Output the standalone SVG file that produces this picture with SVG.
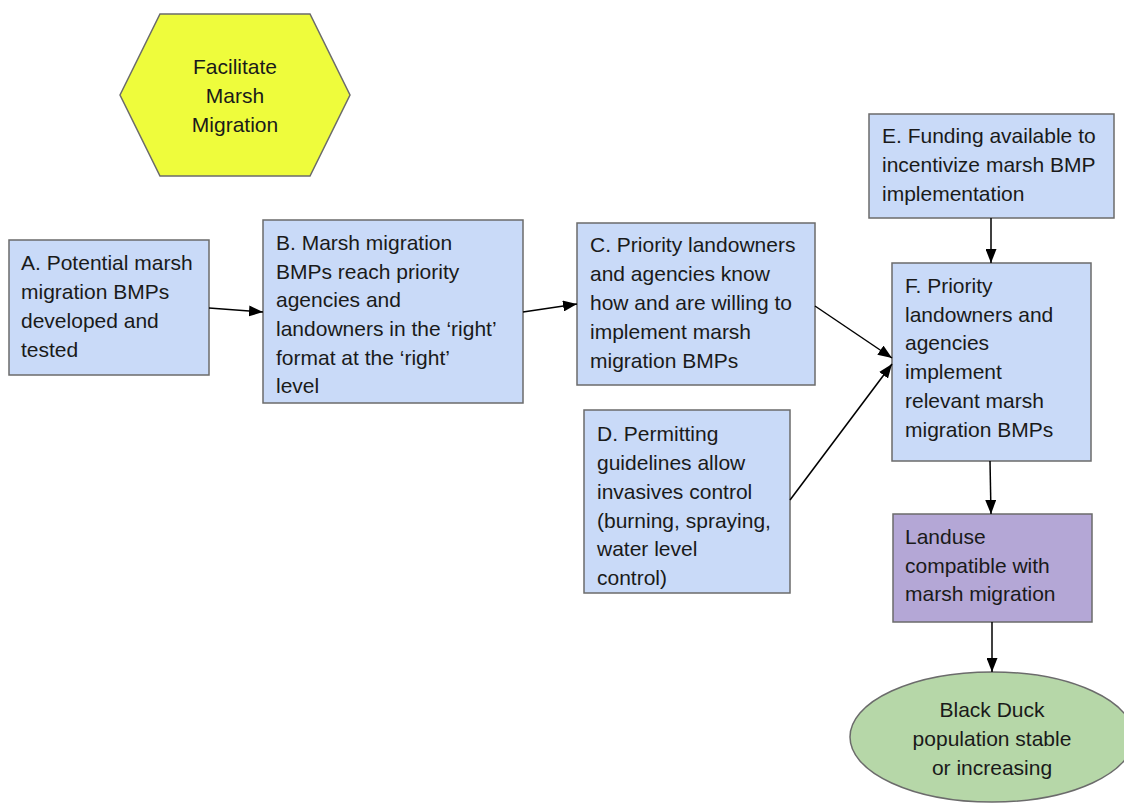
<svg xmlns="http://www.w3.org/2000/svg" width="1124" height="806" viewBox="0 0 1124 806">
  <defs>
    <marker id="arrow" viewBox="0 0 14 11" refX="14" refY="5.5" markerWidth="14" markerHeight="11" markerUnits="userSpaceOnUse" orient="auto">
      <path d="M0,0 L14,5.5 L0,11 z" fill="#000"/>
    </marker>
  </defs>
  <style>
    .box { fill: #c9daf8; stroke: #6b6b6b; stroke-width: 1.5; }
    .goal { fill: #eefc3c; stroke: #6b6b6b; stroke-width: 1.5; }
    .landuse { fill: #b4a7d6; stroke: #6b6b6b; stroke-width: 1.5; }
    .outcome { fill: #b6d7a8; stroke: #6b6b6b; stroke-width: 1.5; }
    text { font-family: "Liberation Sans", Arial, sans-serif; font-size: 21px; fill: #1a1a1a; }
    .mid { text-anchor: middle; }
    .edge { stroke: #000; stroke-width: 1.5; fill: none; marker-end: url(#arrow); }
  </style>

  <!-- goal hexagon -->
  <g id="goal">
    <polygon class="goal" points="120,95 160,14 310,14 350,95 310,176 160,176"/>
    <text class="mid" x="235" y="74">Facilitate</text>
    <text class="mid" x="235" y="103">Marsh</text>
    <text class="mid" x="235" y="132">Migration</text>
  </g>

  <g id="nodeA">
    <rect class="box" x="9" y="240" width="200" height="135"/>
    <text x="21" y="270">A. Potential marsh</text>
    <text x="21" y="299">migration BMPs</text>
    <text x="21" y="328">developed and</text>
    <text x="21" y="357">tested</text>
  </g>

  <g id="nodeB">
    <rect class="box" x="263" y="220" width="260" height="183"/>
    <text x="276" y="250">B. Marsh migration</text>
    <text x="276" y="279">BMPs reach priority</text>
    <text x="276" y="307">agencies and</text>
    <text x="276" y="336">landowners in the ‘right’</text>
    <text x="276" y="365">format at the ‘right’</text>
    <text x="276" y="393">level</text>
  </g>

  <g id="nodeC">
    <rect class="box" x="577" y="223" width="238" height="162"/>
    <text x="590" y="252">C. Priority landowners</text>
    <text x="590" y="281">and agencies know</text>
    <text x="590" y="310">how and are willing to</text>
    <text x="590" y="339">implement marsh</text>
    <text x="590" y="368">migration BMPs</text>
  </g>

  <g id="nodeD">
    <rect class="box" x="584" y="410" width="206" height="183"/>
    <text x="597" y="441">D. Permitting</text>
    <text x="597" y="470">guidelines allow</text>
    <text x="597" y="499">invasives control</text>
    <text x="597" y="528">(burning, spraying,</text>
    <text x="597" y="556">water level</text>
    <text x="597" y="585">control)</text>
  </g>

  <g id="nodeE">
    <rect class="box" x="869" y="114" width="245" height="104"/>
    <text x="882" y="143">E. Funding available to</text>
    <text x="882" y="172">incentivize marsh BMP</text>
    <text x="882" y="201">implementation</text>
  </g>

  <g id="nodeF">
    <rect class="box" x="892" y="263" width="199" height="198"/>
    <text x="905" y="293">F. Priority</text>
    <text x="905" y="322">landowners and</text>
    <text x="905" y="350">agencies</text>
    <text x="905" y="379">implement</text>
    <text x="905" y="408">relevant marsh</text>
    <text x="905" y="437">migration BMPs</text>
  </g>

  <g id="landuse">
    <rect class="landuse" x="893" y="514" width="199" height="108"/>
    <text x="905" y="544">Landuse</text>
    <text x="905" y="573">compatible with</text>
    <text x="905" y="601">marsh migration</text>
  </g>

  <g id="outcome">
    <ellipse class="outcome" cx="992" cy="737" rx="142" ry="65"/>
    <text class="mid" x="992" y="717">Black Duck</text>
    <text class="mid" x="992" y="746">population stable</text>
    <text class="mid" x="992" y="775">or increasing</text>
  </g>

  <g id="connectors">
    <line class="edge" x1="209" y1="308" x2="263" y2="312"/>
    <line class="edge" x1="523" y1="312" x2="577" y2="304"/>
    <line class="edge" x1="815" y1="306" x2="892" y2="358"/>
    <line class="edge" x1="790" y1="500" x2="892" y2="364"/>
    <line class="edge" x1="991" y1="218" x2="991" y2="263"/>
    <line class="edge" x1="990" y1="461" x2="991" y2="514"/>
    <line class="edge" x1="992" y1="622" x2="992" y2="672"/>
  </g>
</svg>
